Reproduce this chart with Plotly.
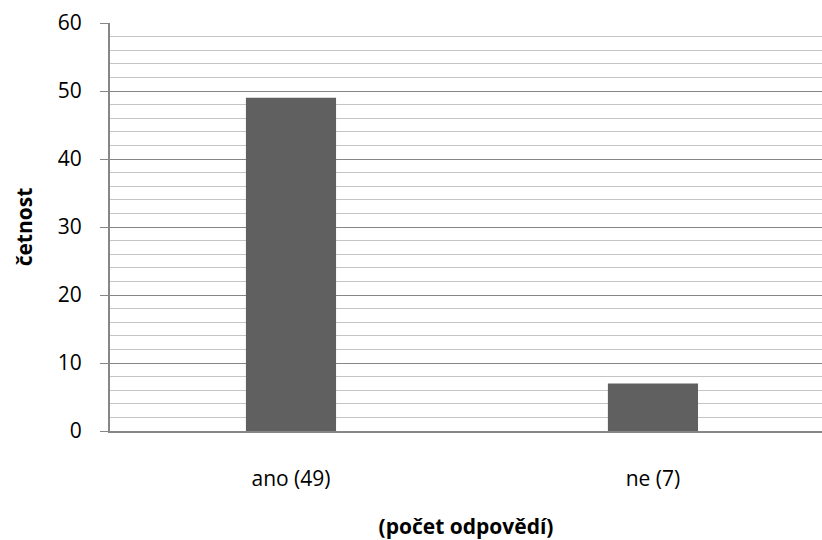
import plotly.graph_objects as go

categories = ["ano (49)", "ne (7)"]
values = [49, 7]
y_ticks = [0, 10, 20, 30, 40, 50, 60]

font = "Open Sans"

fig = go.Figure(go.Bar(
    x=categories, y=values,
    marker=dict(color="#606060", line=dict(width=0)),
    width=0.249,
))

fig.update_layout(
    width=822, height=540,
    margin=dict(l=110, r=0, t=23, b=109, autoexpand=False),
    paper_bgcolor="white", plot_bgcolor="white",
    showlegend=False,
    font=dict(family=font, size=21, color="black"),
    xaxis=dict(
        range=[-0.5, 1.467],
        showgrid=False,
        showline=True, linecolor="#868686", linewidth=2,
        ticks="", ticklabelstandoff=28,
        title=dict(text="<b>(počet odpovědí)</b>", font=dict(size=21), standoff=29),
        automargin=False,
    ),
    yaxis=dict(
        range=[0, 60], tickvals=y_ticks,
        showline=True, linecolor="#868686", linewidth=2,
        ticks="outside", ticklen=8, tickcolor="#868686", tickwidth=1,
        ticklabelstandoff=14,
        showgrid=True, gridcolor="#868686", gridwidth=1,
        minor=dict(dtick=2, showgrid=True, gridcolor="#c4c4c4", gridwidth=1),
        zeroline=False,
        title=dict(text="<b>četnost</b>", font=dict(size=21), standoff=19),
        automargin=False,
    ),
)

fig.write_html(
    "out.html",
    config={"displayModeBar": False},
    post_script="document.body.style.margin='0';document.body.style.overflow='hidden';",
)
